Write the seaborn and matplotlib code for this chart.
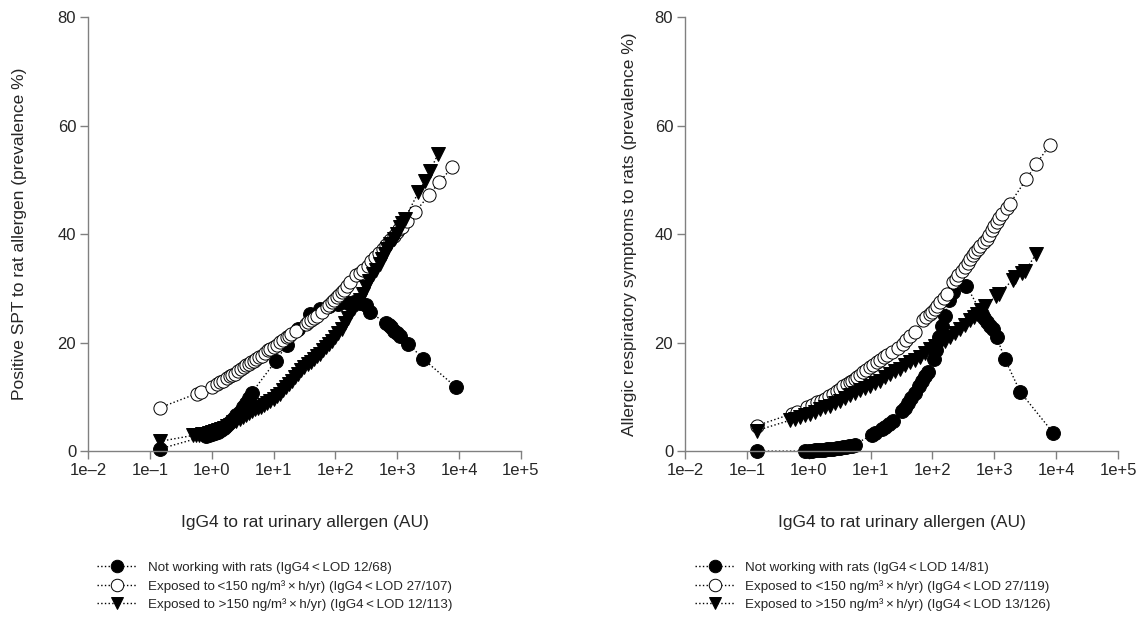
import numpy as np
import pandas as pd
import seaborn as sns
import matplotlib.pyplot as plt
from matplotlib.lines import Line2D

# ---- data (log10 of IgG4 AU, prevalence %) ----
# left panel: positive SPT
spt_not_lx = [-0.84, -0.1, -0.05, 0.0, 0.05, 0.1, 0.15, 0.2, 0.25, 0.3, 0.35, 0.4, 0.45,
              0.5, 0.55, 0.6, 0.65, 1.04, 1.21, 1.4, 1.59, 1.75, 1.9, 2.05, 2.2, 2.3,
              2.4, 2.5, 2.56, 2.82, 2.86, 2.9, 2.95, 3.0, 3.04, 3.18, 3.42, 3.95]
spt_not_y = [0.4, 2.8, 2.9, 3.1, 3.3, 3.6, 3.9, 4.3, 4.8, 5.4, 6.0, 6.6, 7.3,
             8.1, 8.9, 9.8, 10.8, 16.7, 19.5, 22.5, 25.3, 26.3, 26.8, 27.2, 27.4, 27.5,
             27.4, 27.0, 25.6, 23.6, 23.2, 22.8, 22.2, 21.8, 21.3, 19.8, 17.0, 11.8]

spt_low_lx = [-0.84, -0.245, -0.165, 0.0, 0.08, 0.13, 0.19, 0.24, 0.29, 0.33, 0.37, 0.42,
              0.48, 0.52, 0.56, 0.6, 0.64, 0.68, 0.72, 0.76, 0.81, 0.86, 0.91, 0.95, 1.0,
              1.05, 1.1, 1.15, 1.21, 1.25, 1.29, 1.37, 1.52, 1.56, 1.6, 1.65, 1.70, 1.78,
              1.86, 1.9, 1.94, 1.98, 2.02, 2.06, 2.10, 2.14, 2.18, 2.24, 2.34, 2.40, 2.45,
              2.52, 2.58, 2.64, 2.70, 2.77, 2.82, 2.88, 2.94, 2.99, 3.03, 3.07, 3.15, 3.29,
              3.52, 3.68, 3.89]
spt_low_y = [8.0, 10.6, 10.9, 11.8, 12.3, 12.7, 13.0, 13.4, 13.8, 14.0, 14.3, 14.7,
             15.2, 15.5, 15.8, 16.1, 16.4, 16.7, 17.0, 17.3, 17.6, 18.1, 18.6, 18.9, 19.2,
             19.6, 20.1, 20.5, 21.0, 21.3, 21.6, 22.2, 23.4, 23.8, 24.1, 24.5, 25.0, 25.7,
             26.5, 27.0, 27.5, 27.9, 28.4, 28.8, 29.3, 29.8, 30.4, 31.2, 32.4, 32.9, 33.4,
             34.2, 35.0, 35.8, 36.5, 37.3, 38.1, 39.0, 39.7, 40.4, 40.9, 41.3, 42.5, 44.1,
             47.3, 49.6, 52.4]

spt_high_lx = [-0.84, -0.3, -0.25, -0.2, -0.15, -0.1, -0.05, 0.0, 0.05, 0.1, 0.15, 0.2,
               0.25, 0.3, 0.35, 0.4, 0.45, 0.5, 0.55, 0.6, 0.65, 0.7, 0.75, 0.8, 0.85,
               0.9, 0.95, 1.0, 1.05, 1.1, 1.15, 1.2, 1.25, 1.3, 1.35, 1.4, 1.45, 1.5,
               1.55, 1.6, 1.65, 1.7, 1.75, 1.8, 1.85, 1.9, 1.95, 2.0, 2.05, 2.1, 2.15,
               2.2, 2.25, 2.3, 2.35, 2.4, 2.45, 2.5, 2.55, 2.6, 2.65, 2.72, 2.76, 2.8,
               2.84, 2.88, 2.94, 2.99, 3.04, 3.08, 3.12, 3.34, 3.45, 3.53, 3.66]
spt_high_y = [1.8, 2.9, 3.0, 3.0, 3.1, 3.2, 3.3, 3.5, 3.7, 3.9, 4.1, 4.3,
              4.6, 4.9, 5.3, 5.6, 5.9, 6.3, 6.7, 7.1, 7.4, 7.7, 8.0, 8.2, 8.5,
              8.8, 9.2, 9.6, 10.1, 10.6, 11.2, 11.8, 12.4, 12.9, 13.6, 14.3, 14.9, 15.5,
              16.0, 16.5, 17.0, 17.5, 18.0, 18.6, 19.2, 19.8, 20.3, 21.0, 21.8, 22.6, 23.6,
              24.6, 25.6, 26.4, 27.2, 27.8, 29.0, 30.2, 31.4, 32.6, 33.4, 34.5, 35.5, 36.4,
              37.3, 38.2, 39.2, 40.1, 41.3, 42.0, 42.8, 47.7, 49.9, 51.7, 54.8]

# right panel: allergic respiratory symptoms
sym_not_lx = [-0.84, -0.06, 0.0, 0.05, 0.1, 0.15, 0.2, 0.25, 0.3, 0.35, 0.4, 0.45, 0.5,
              0.55, 0.6, 0.65, 0.7, 0.74, 1.02, 1.07, 1.18, 1.24, 1.3, 1.36, 1.5, 1.55,
              1.6, 1.66, 1.72, 1.78, 1.83, 1.88, 1.93, 2.02, 2.06, 2.10, 2.15, 2.2, 2.26,
              2.34, 2.55, 2.80, 2.84, 2.88, 2.93, 2.98, 3.04, 3.17, 3.42, 3.95]
sym_not_y = [0.0, 0.0, 0.05, 0.1, 0.15, 0.2, 0.25, 0.3, 0.35, 0.4, 0.45, 0.55, 0.6,
             0.7, 0.8, 0.9, 1.0, 1.2, 3.0, 3.4, 4.0, 4.5, 5.0, 5.6, 7.4, 8.0,
             8.8, 9.8, 10.8, 12.0, 13.0, 13.9, 14.6, 17.0, 18.6, 21.0, 23.0, 25.0, 27.8,
             29.3, 30.5, 25.3, 24.6, 23.8, 23.0, 22.5, 21.0, 17.0, 10.9, 3.4]

sym_low_lx = [-0.84, -0.27, -0.19, -0.03, 0.05, 0.13, 0.2, 0.27, 0.33, 0.40, 0.45, 0.51,
              0.56, 0.62, 0.66, 0.70, 0.74, 0.78, 0.83, 0.88, 0.93, 0.99, 1.04, 1.10, 1.15,
              1.21, 1.27, 1.34, 1.45, 1.53, 1.58, 1.64, 1.72, 1.85, 1.9, 1.96, 2.0, 2.04,
              2.08, 2.12, 2.18, 2.23, 2.34, 2.38, 2.42, 2.48, 2.53, 2.57, 2.61, 2.65, 2.69,
              2.73, 2.77, 2.83, 2.88, 2.92, 2.96, 3.0, 3.04, 3.08, 3.12, 3.2, 3.25, 3.52,
              3.68, 3.90]
sym_low_y = [4.7, 6.9, 7.2, 8.1, 8.6, 9.0, 9.3, 9.6, 10.1, 10.6, 11.0, 11.5,
             12.0, 12.4, 12.7, 13.0, 13.3, 13.6, 14.1, 14.6, 15.0, 15.5, 15.9, 16.4, 16.8,
             17.3, 17.7, 18.2, 19.0, 19.8, 20.5, 21.3, 22.0, 24.1, 24.7, 25.3, 25.7, 26.2,
             26.8, 27.5, 28.2, 29.0, 31.2, 31.8, 32.4, 33.2, 33.9, 34.7, 35.5, 36.1, 36.7,
             37.3, 37.9, 38.5, 39.1, 39.9, 40.7, 41.5, 42.2, 43.0, 43.7, 44.9, 45.6, 50.2,
             53.0, 56.5]

sym_high_lx = [-0.84, -0.30, -0.22, -0.14, -0.06, 0.02, 0.1, 0.18, 0.26, 0.35, 0.43, 0.51,
               0.59, 0.67, 0.75, 0.83, 0.91, 0.99, 1.07, 1.15, 1.23, 1.32, 1.40, 1.48,
               1.56, 1.64, 1.72, 1.80, 1.88, 1.96, 2.04, 2.12, 2.20, 2.28, 2.36, 2.45,
               2.53, 2.61, 2.67, 2.72, 2.78, 2.85, 3.03, 3.07, 3.30, 3.34, 3.45, 3.50,
               3.68]
sym_high_y = [3.8, 5.7, 6.0, 6.3, 6.6, 6.9, 7.3, 7.8, 8.1, 8.4, 8.9, 9.3,
              9.8, 10.3, 10.7, 11.2, 11.6, 12.1, 12.5, 13.0, 13.6, 14.3, 14.7, 15.2,
              15.8, 16.4, 16.8, 17.3, 18.1, 18.9, 19.3, 19.8, 20.4, 21.0, 21.7, 22.5,
              23.3, 24.1, 24.7, 25.3, 26.0, 26.8, 28.6, 29.0, 31.6, 32.1, 32.8, 33.3,
              36.4]

tick_labels = ["1e\u20132", "1e\u20131", "1e+0", "1e+1", "1e+2", "1e+3", "1e+4", "1e+5"]

spt_legend = ["Not working with rats (IgG4\u2009<\u2009LOD 12/68)",
              "Exposed to\u2009<150 ng/m\u00b3\u2009\u00d7\u2009h/yr) (IgG4\u2009<\u2009LOD 27/107)",
              "Exposed to >150 ng/m\u00b3\u2009\u00d7\u2009h/yr) (IgG4\u2009<\u2009LOD 12/113)"]
sym_legend = ["Not working with rats (IgG4\u2009<\u2009LOD 14/81)",
              "Exposed to <150 ng/m\u00b3\u2009\u00d7\u2009h/yr) (IgG4\u2009<\u2009LOD 27/119)",
              "Exposed to >150 ng/m\u00b3\u2009\u00d7\u2009h/yr) (IgG4\u2009<\u2009LOD 13/126)"]

STYLES = [dict(marker="o", mfc="black", ms=10),
          dict(marker="o", mfc="white", ms=9.5),
          dict(marker="v", mfc="black", ms=10)]


def disegna(ax, serie, ylabel, etichette, ypad):
    for (lx, y), st in zip(serie, STYLES):
        df = pd.DataFrame({"x": 10.0 ** np.array(lx), "y": y})
        sns.lineplot(data=df, x="x", y="y", ax=ax, sort=False, estimator=None,
                     color="black", linestyle=":", linewidth=1.0,
                     marker=st["marker"], markersize=st["ms"],
                     markerfacecolor=st["mfc"], markeredgecolor="black",
                     markeredgewidth=0.7)
    ax.set_xscale("log")
    ax.set_xlim(1e-2, 1e5)
    ax.set_ylim(0, 80)
    ax.set_xticks([10.0 ** k for k in range(-2, 6)])
    ax.set_xticklabels(tick_labels)
    ax.minorticks_off()
    ax.set_yticks([0, 20, 40, 60, 80])
    ax.set_xlabel("IgG4 to rat urinary allergen (AU)", fontsize=12.5, labelpad=27)
    ax.set_ylabel(ylabel, fontsize=12.5, labelpad=ypad)
    ax.tick_params(axis="both", labelsize=12, length=5.5, width=1.0, color="#808080",
                   direction="out", pad=3)
    for s in ("top", "right"):
        ax.spines[s].set_visible(False)
    for s in ("left", "bottom"):
        ax.spines[s].set_color("#808080")
        ax.spines[s].set_linewidth(1.0)
    for ln in ax.get_lines():
        ln.set_clip_on(False)

    handles = [Line2D([], [], color="black", linestyle=":", linewidth=1.0,
                      marker=st["marker"], markersize=9, markerfacecolor=st["mfc"],
                      markeredgecolor="black", markeredgewidth=0.7)
               for st in STYLES]
    ax.legend(handles, etichette, loc="upper left", bbox_to_anchor=(0.022, -0.255),
              frameon=False, fontsize=9.6, handlelength=3.0, handletextpad=0.8,
              labelspacing=0.42, numpoints=1, borderaxespad=0, borderpad=0)


sns.set_style("ticks")
plt.rcParams["font.family"] = ["Liberation Sans", "DejaVu Sans"]

fig = plt.figure(figsize=(11.44, 6.18), dpi=100)
ax1 = fig.add_axes([0.0769, 0.270, 0.3785, 0.702])
ax2 = fig.add_axes([0.5988, 0.270, 0.3785, 0.702])

disegna(ax1, [(spt_not_lx, spt_not_y), (spt_low_lx, spt_low_y), (spt_high_lx, spt_high_y)],
        "Positive SPT to rat allergen (prevalence %)", spt_legend, 22)
disegna(ax2, [(sym_not_lx, sym_not_y), (sym_low_lx, sym_low_y), (sym_high_lx, sym_high_y)],
        "Allergic respiratory symptoms to rats (prevalence %)", sym_legend, 13)

fig.savefig("out.png", dpi=100)
